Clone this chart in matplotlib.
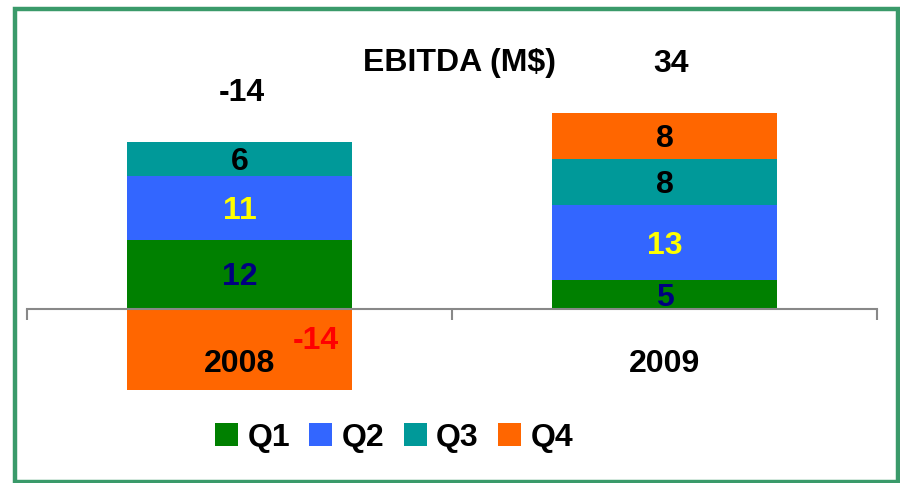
import matplotlib
matplotlib.use('Agg')
import matplotlib.pyplot as plt
from matplotlib.patches import Rectangle, Patch
from matplotlib.transforms import ScaledTranslation
import numpy as np

plt.rcParams['font.family'] = ['Liberation Sans', 'DejaVu Sans']
plt.rcParams['font.weight'] = 'bold'

# data
years = ['2008', '2009']
quarters = ['Q1', 'Q2', 'Q3', 'Q4']
q1 = [12, 5]
q2 = [11, 13]
q3 = [6, 8]
q4 = [-14, 8]
total_labels = ['-14', '34']

colors = ['#008000', '#3366FF', '#009999', '#FF6600']
label_colors = ['#000080', '#FFFF00', '#000000', '#000000']

fig = plt.figure(figsize=(9, 4.83), dpi=100)
W, H = 900, 483

# axes placed so that zero sits at y=309 px, 5.77 px per unit
ylo, yhi = -16, 36
ppu = 5.77
ax_h = (yhi - ylo) * ppu
ax_top = 309 - yhi * ppu
ax = fig.add_axes([27 / W, 1 - (ax_top + ax_h) / H, 850 / W, ax_h / H])

# nudge text down a few px so digits sit centred like the original
down = ScaledTranslation(0, -3 / 100, fig.dpi_scale_trans)
tdata = ax.transData + down

x = np.arange(len(years))
series = [q1, q2, q3, q4]
pos_bottom = np.zeros(len(years))
neg_bottom = np.zeros(len(years))
for i, vals in enumerate(series):
    vals = np.array(vals, dtype=float)
    bottoms = np.where(vals >= 0, pos_bottom, neg_bottom)
    ax.bar(x, vals, width=0.53, bottom=bottoms, color=colors[i], zorder=2)
    for j, v in enumerate(vals):
        if v >= 0:
            ax.text(x[j], bottoms[j] + v / 2, f'{int(v)}', ha='center', va='center',
                    fontsize=23, color=label_colors[i], fontweight='bold', zorder=4,
                    transform=tdata)
        else:
            # negative quarter label sits offset, in red
            ax.text(x[j] + 0.18, v * 0.36, f'{int(v)}', ha='center', va='center',
                    fontsize=23, color='#FF0000', fontweight='bold', zorder=4,
                    transform=tdata)
    pos_bottom = pos_bottom + np.where(vals >= 0, vals, 0)
    neg_bottom = neg_bottom + np.where(vals < 0, vals, 0)

# totals above the positive stack
for j, lab in enumerate(total_labels):
    ax.text(x[j] + (0.015 if j else 0.005), pos_bottom[j] + 9, lab, ha='center', va='center',
            fontsize=23, fontweight='bold', clip_on=False, transform=tdata)

# category labels
for j, yr in enumerate(years):
    ax.text(x[j], -9, yr, ha='center', va='center', fontsize=23,
            fontweight='bold', zorder=4, transform=tdata)

ax.set_xlim(-0.5, 1.5)
ax.set_ylim(ylo, yhi)
for s in ['top', 'right', 'left']:
    ax.spines[s].set_visible(False)
ax.spines['bottom'].set_position(('data', 0))
ax.spines['bottom'].set_color('#888888')
ax.spines['bottom'].set_linewidth(1.5)
ax.spines['bottom'].set_zorder(3)
ax.set_xticks([-0.5, 0.5, 1.5])
ax.set_xticklabels([])
ax.tick_params(axis='x', direction='out', length=8, width=1.5, color='#888888')
ax.set_yticks([])
ax.patch.set_alpha(0)

fig.text(460 / W, 1 - 63 / H, 'EBITDA (M$)', ha='center', va='center',
         fontsize=23, fontweight='bold')

handles = [Patch(facecolor=c, edgecolor='none') for c in colors]
fig.legend(handles, quarters, loc='center', bbox_to_anchor=(394 / W, 1 - 438 / H),
           ncol=4, frameon=False, handlelength=0.72, handleheight=0.72,
           handletextpad=0.3, columnspacing=0.6, prop={'weight': 'bold', 'size': 23})

# green frame
fig.patches.append(Rectangle((14.5 / W, 1 - 481.5 / H), 883.5 / W, 473 / H,
                             transform=fig.transFigure, fill=False,
                             edgecolor='#3A9A6A', linewidth=3.2))

fig.savefig('out.png', dpi=100)
